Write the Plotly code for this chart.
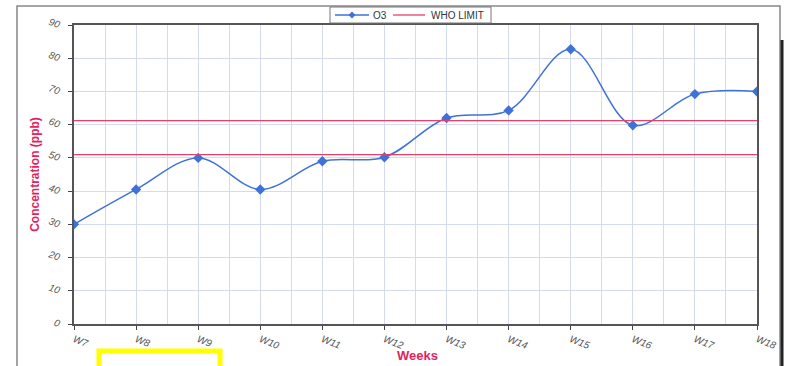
import plotly.graph_objects as go

weeks = ["W7", "W8", "W9", "W10", "W11", "W12", "W13", "W14", "W15", "W16", "W17", "W18"]
o3 = [30, 40.5, 50, 40.5, 49, 50.2, 62, 64.3, 82.7, 59.8, 69.2, 70]
who_limits = [61.2, 51]
y_ticks = [0, 10, 20, 30, 40, 50, 60, 70, 80, 90]

xpos = list(range(len(weeks)))

W, H = 791, 366
L, R, T, B = 74, 34, 25, 42
pw, ph = W - L - R, H - T - B

def px_x(p):
    return (p - L) / pw

def px_y(p):
    return (H - B - p) / ph

BLUE = "#3f72d6"
RED = "#e8406a"
TITLE_RED = "#e0245e"

fig = go.Figure()

fig.add_trace(go.Scatter(
    x=xpos, y=o3, name="O3", mode="lines+markers",
    line=dict(color=BLUE, width=1.5, shape="spline", smoothing=1.0),
    marker=dict(symbol="diamond", size=8, color=BLUE),
    showlegend=False,
))
for v in who_limits:
    fig.add_trace(go.Scatter(
        x=[xpos[0], xpos[-1]], y=[v, v], name="WHO LIMIT", mode="lines",
        line=dict(color=RED, width=1.3), showlegend=False,
    ))

# manual legend (kept outside the plot area without pushing margins)
lx0, lx1, ly0, ly1 = 330, 491, 7, 23
ym = (ly0 + ly1) / 2
shapes = [
    dict(type="rect", xref="paper", yref="paper",
         x0=px_x(17), x1=px_x(780), y0=px_y(380), y1=px_y(6),
         line=dict(color="#888888", width=1.5), layer="below"),
    dict(type="line", xref="paper", yref="paper",
         x0=px_x(782), x1=px_x(782), y0=px_y(366), y1=px_y(40),
         line=dict(color="#222222", width=3)),
    dict(type="rect", xref="paper", yref="paper",
         x0=px_x(99), x1=px_x(220), y0=px_y(370), y1=px_y(351),
         line=dict(color="#ffff00", width=5)),
    dict(type="rect", xref="paper", yref="paper",
         x0=px_x(lx0), x1=px_x(lx1), y0=px_y(ly1), y1=px_y(ly0),
         line=dict(color="#777777", width=1), fillcolor="white"),
    dict(type="line", xref="paper", yref="paper",
         x0=px_x(335), x1=px_x(369), y0=px_y(ym), y1=px_y(ym),
         line=dict(color=BLUE, width=1.5)),
    dict(type="path", xref="paper", yref="paper",
         path=(f"M {px_x(352)} {px_y(ym-3.5)} L {px_x(355.5)} {px_y(ym)} "
               f"L {px_x(352)} {px_y(ym+3.5)} L {px_x(348.5)} {px_y(ym)} Z"),
         line=dict(color=BLUE, width=0), fillcolor=BLUE),
    dict(type="line", xref="paper", yref="paper",
         x0=px_x(393), x1=px_x(425), y0=px_y(ym), y1=px_y(ym),
         line=dict(color=RED, width=1.3)),
]
annotations = [
    dict(text="O3", xref="paper", yref="paper", x=px_x(371), y=px_y(ym),
         xanchor="left", yanchor="middle", showarrow=False,
         font=dict(size=10, color="#333333")),
    dict(text="WHO LIMIT", xref="paper", yref="paper", x=px_x(429), y=px_y(ym),
         xanchor="left", yanchor="middle", showarrow=False,
         font=dict(size=10, color="#333333")),
    dict(text="<b>Weeks</b>", xref="paper", yref="paper", x=px_x(417), y=px_y(355),
         xanchor="center", yanchor="middle", showarrow=False,
         font=dict(size=13, color=TITLE_RED)),
]

fig.update_layout(
    width=W, height=H, autosize=False,
    margin=dict(l=L, r=R, t=T, b=B),
    paper_bgcolor="white", plot_bgcolor="white",
    font=dict(family="Liberation Sans, Arial", size=10, color="#555555"),
    showlegend=False,
    xaxis=dict(
        range=[0, 11], tickvals=xpos, ticktext=weeks, tickangle=22,
        tickfont=dict(size=10, color="#555555", style="italic"),
        showgrid=True, gridcolor="#d6daef", gridwidth=1,
        minor=dict(dtick=0.5, showgrid=True, gridcolor="#d6daef", tick0=0),
        ticks="outside", ticklen=4, tickcolor="#444444",
        showline=True, linecolor="#555555", linewidth=1.5, mirror=True,
        zeroline=False, automargin=False,
    ),
    yaxis=dict(
        range=[0, 90], tickvals=y_ticks, tickangle=20,
        tickfont=dict(size=10, color="#555555", style="italic"),
        showgrid=True, gridcolor="#d6daef", gridwidth=1,
        ticks="outside", ticklen=4, tickcolor="#444444", ticklabelstandoff=6,
        showline=True, linecolor="#555555", linewidth=1.5, mirror=True,
        zeroline=False, automargin=False,
        title=dict(text="<b>Concentration (ppb)</b>", font=dict(size=12, color=TITLE_RED), standoff=4),
    ),
    shapes=shapes,
    annotations=annotations,
)

fig.write_html("out.html", config={"displayModeBar": False},
               post_script="document.body.style.margin='0';document.body.style.overflow='hidden';")
